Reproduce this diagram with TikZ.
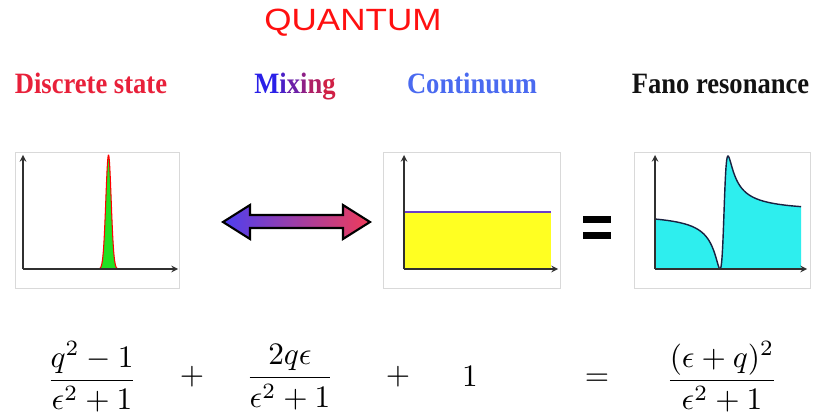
\documentclass[tikz,border=0pt]{standalone}
\usepackage{fontspec}
\usepackage{amsmath}
\newfontfamily\titlefont{Liberation Sans}
\newfontfamily\headfont{Liberation Serif}
\usetikzlibrary{positioning}

\definecolor{quantumred}{HTML}{FF1010}
\definecolor{discred}{HTML}{E8203A}
\definecolor{mixblue}{HTML}{2A20E8}
\definecolor{mixred}{HTML}{D02045}
\definecolor{contblue}{HTML}{4A6AF0}
\definecolor{panelgray}{HTML}{D9D9D9}
\definecolor{axisgray}{HTML}{303030}
\definecolor{peakgreen}{HTML}{22E022}
\definecolor{contyellow}{HTML}{FFFF22}
\definecolor{contline}{HTML}{6A3CC8}
\definecolor{fanocyan}{HTML}{2EEEEE}
\definecolor{fanoline}{HTML}{1A2040}
\definecolor{arrowblue}{HTML}{4D3FF0}
\definecolor{arrowred}{HTML}{F03C5A}

\tikzset{
  panel/.style={draw=panelgray, fill=white, line width=0.5pt},
  axis/.style={->, draw=axisgray, line width=0.7pt},
  heading/.style={font=\fontsize{16.8}{18}\selectfont\headfont\bfseries, xscale=0.9, anchor=base},
  formula/.style={scale=1.78, inner sep=0pt}
}

\begin{document}
\begin{tikzpicture}[x=0.02cm, y=-0.02cm, >=stealth]
  \useasboundingbox (0,0) rectangle (814,415);

  \node[font=\fontsize{17.5}{20}\selectfont\titlefont, text=quantumred, xscale=1.14] (title) at (353,22.5) {QUANTUM};

  \node[heading, text=discred] (discrete) at (91,94) {Discrete state};
  \node[heading] (mixing) at (295,94) {\textcolor{mixblue}{M}\textcolor{mixred!20!mixblue}{i}\textcolor{mixred!40!mixblue}{x}\textcolor{mixred!60!mixblue}{i}\textcolor{mixred!80!mixblue}{n}\textcolor{mixred}{g}};
  \node[heading, text=contblue] (continuum) at (472,94) {Continuum};
  \node[heading, text=black!93] (fano) at (720.5,94) {Fano resonance};

  % discrete state
  \draw[panel] (15,152) rectangle (179,288);
  \fill[peakgreen] plot[domain=97:120, samples=140] (\x, {269-114*exp(-(\x-108.5)*(\x-108.5)/14.4)});
  \draw[red, line width=0.6pt] plot[domain=97:120, samples=140] (\x, {269-114*exp(-(\x-108.5)*(\x-108.5)/14.4)});
  \coordinate (o1) at (23,269);
  \draw[axis] (o1) -- (23,155);
  \draw[axis] (o1) -- (178,269);

  % mixing
  \draw[line width=1.2pt, left color=arrowblue, right color=arrowred]
    (223,222) -- (250,205) -- (250,215) -- (343,215) -- (343,205) -- (370,222)
    -- (343,239) -- (343,228) -- (250,228) -- (250,239) -- cycle;

  % continuum
  \draw[panel] (383,152) rectangle (560,288);
  \fill[contyellow] (404,212) rectangle (551,269);
  \draw[contline, line width=0.9pt] (404,212) -- (551,212);
  \coordinate (o2) at (404,269);
  \draw[axis] (o2) -- (404,155);
  \draw[axis] (o2) -- (558,269);

  \fill (583,216) rectangle (611,223);
  \fill (583,232) rectangle (611,239);

  % fano resonance
  \draw[panel] (634,152) rectangle (810,288);
  \fill[fanocyan] (655,269) -- plot[domain=-17.25:19.25, samples=400] ({724+4*\x}, {269-56.5*((\x+1)^2/(\x*\x+1))}) -- (801,269) -- cycle;
  \draw[fanoline, line width=0.8pt] plot[domain=-17.25:19.25, samples=400] ({724+4*\x}, {269-56.5*((\x+1)^2/(\x*\x+1))});
  \coordinate (o3) at (655,269);
  \draw[axis] (o3) -- (655,155);
  \draw[axis] (o3) -- (807,269);

  \node[formula] (f1) at (92,377) {$\dfrac{q^2-1}{\epsilon^2+1}$};
  \node[formula] (p1) at (192,377) {$+$};
  \node[formula] (f2) at (290,377) {$\dfrac{2q\epsilon}{\epsilon^2+1}$};
  \node[formula] (p2) at (398,377) {$+$};
  \node[formula] (f3) at (470,376) {$1$};
  \node[formula] (eq) at (597,380) {$=$};
  \node[formula] (f4) at (722,377) {$\dfrac{(\epsilon+q)^2}{\epsilon^2+1}$};
\end{tikzpicture}
\end{document}
